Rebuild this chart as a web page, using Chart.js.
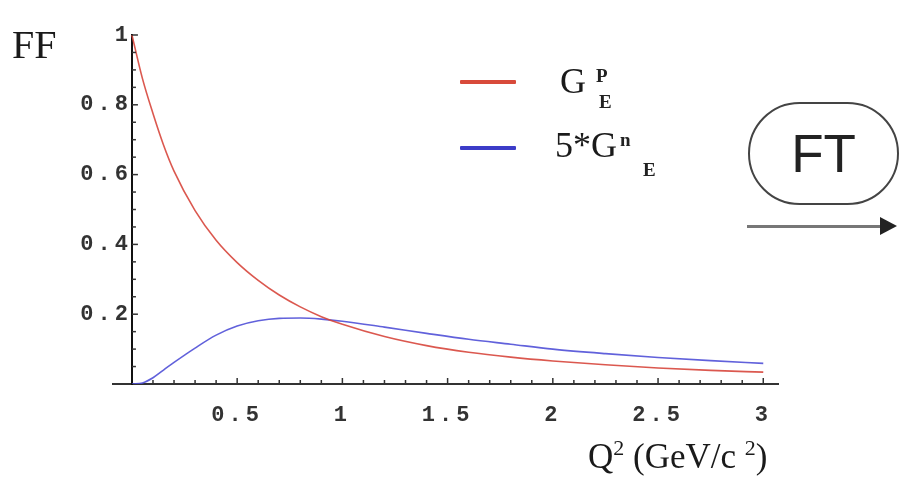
<!DOCTYPE html>
<html>
<head>
<meta charset="utf-8">
<script src="https://cdn.jsdelivr.net/npm/chart.js@4.4.1/dist/chart.umd.min.js"></script>
<style>
    html, body { margin: 0; padding: 0; background: #fff; }
    #wrap { position: relative; width: 899px; height: 477px; overflow: hidden; }
    #ff-chart { position: absolute; left: 0; top: 0; }
    .txt { position: absolute; font-family: "Liberation Serif", "DejaVu Serif", serif; color: #1a1a1a; line-height: 1; white-space: nowrap; }
    .idx { position: absolute; font-family: "Liberation Serif", serif; font-weight: bold; font-size: 19px; color: #222; line-height: 1; }
    .swatch { position: absolute; height: 4px; width: 56px; border-radius: 1px; }
    #ft-box { position: absolute; left: 748px; top: 102px; width: 147px; height: 99px; border: 2px solid #444;
        border-radius: 52px; display: flex; align-items: center; justify-content: center;
        font-family: "Liberation Sans", Arial, sans-serif; font-size: 53px; color: #222; }
    #arrow-line { position: absolute; left: 747px; top: 225px; width: 136px; height: 3px; background: #777; }
    #arrow-head { position: absolute; left: 880px; top: 217px; width: 0; height: 0;
        border-top: 9px solid transparent; border-bottom: 9px solid transparent; border-left: 17px solid #222; }
</style>
</head>
<body>
<div id="wrap">
    <canvas id="ff-chart" width="899" height="477"></canvas>

    <div class="txt" style="left:12px; top:25px; font-size:40px;">FF</div>

    <!-- legende -->
    <div class="swatch" style="left:460px; top:80px; background:#d84a3a;"></div>
    <div class="txt" style="left:560px; top:63px; font-size:36px;">G</div>
    <div class="idx" style="left:596px; top:66px;">P</div>
    <div class="idx" style="left:599px; top:92px;">E</div>

    <div class="swatch" style="left:460px; top:146px; background:#3c3cc8;"></div>
    <div class="txt" style="left:555px; top:127px; font-size:36px;">5*G</div>
    <div class="idx" style="left:620px; top:130px;">n</div>
    <div class="idx" style="left:643px; top:160px;">E</div>

    <div id="ft-box">FT</div>
    <div id="arrow-line"></div>
    <div id="arrow-head"></div>

    <div class="txt" style="left:588px; top:439px; font-size:35px;">Q<span style="font-size:22px; position:relative; top:-13px;">2</span> (GeV/c <span style="font-size:22px; position:relative; top:-13px;">2</span>)</div>
</div>

<script>
// Q^2 en GeV/c^2
const qValues = [0, 0.05, 0.1, 0.15, 0.2, 0.3, 0.4, 0.5, 0.6, 0.7, 0.8, 0.9, 1.0,
    1.2, 1.4, 1.6, 1.8, 2.0, 2.25, 2.5, 2.75, 3.0]
// facteur de forme electrique du proton
const gepValues = [1.00, 0.875, 0.775, 0.685, 0.61, 0.497, 0.412, 0.348, 0.297, 0.255, 0.221, 0.193, 0.171,
    0.136, 0.110, 0.091, 0.077, 0.066, 0.055, 0.046, 0.039, 0.034]
// 5 x facteur de forme electrique du neutron
const gen5Values = [0, 0.003, 0.018, 0.04, 0.062, 0.103, 0.140, 0.166, 0.181, 0.188, 0.189, 0.186, 0.180,
    0.163, 0.145, 0.128, 0.114, 0.100, 0.087, 0.076, 0.067, 0.059]
const xTickLabels = [0.5, 1, 1.5, 2, 2.5, 3]
const yTickLabels = [0.2, 0.4, 0.6, 0.8, 1]

const toPoints = (vals) => qValues.map((q, i) => ({x: q, y: vals[i]}))

const tickFont = {family: '"Liberation Mono", "DejaVu Sans Mono", monospace', size: 22, weight: 'bold'}

// espacement des chiffres des graduations
const spacedLabels = {
    id: 'spacedLabels',
    beforeDraw(chart) { chart.ctx.letterSpacing = '4px' },
    afterDraw(chart) { chart.ctx.letterSpacing = '0px' }
}

// petites graduations vers l'interieur, facon Mathematica
const innerTicks = {
    id: 'innerTicks',
    afterDraw(chart) {
        const ctx = chart.ctx
        const xs = chart.scales.x
        const ys = chart.scales.y
        const x0 = xs.getPixelForValue(0)
        const y0 = ys.getPixelForValue(0)
        ctx.save()
        ctx.strokeStyle = '#333'
        ctx.lineWidth = 1.5
        for (let i = 1; i <= 30; i++) {
            const px = xs.getPixelForValue(i / 10)
            const len = i % 5 === 0 ? 6 : 4
            ctx.beginPath()
            ctx.moveTo(px, y0)
            ctx.lineTo(px, y0 - len)
            ctx.stroke()
        }
        for (let i = 1; i <= 20; i++) {
            const py = ys.getPixelForValue(i / 20)
            const len = i % 4 === 0 ? 6 : 4
            ctx.beginPath()
            ctx.moveTo(x0, py)
            ctx.lineTo(x0 + len, py)
            ctx.stroke()
        }
        ctx.restore()
    }
}

const ctx = document.getElementById('ff-chart').getContext('2d')
const chart = new Chart(ctx, {
    type: 'line',
    data: {
        datasets: [{
            label: 'GEp',
            data: toPoints(gepValues),
            borderColor: 'rgba(215, 70, 60, 0.9)',
            borderWidth: 1.6,
            pointRadius: 0,
            cubicInterpolationMode: 'monotone'
        }, {
            label: '5*GEn',
            data: toPoints(gen5Values),
            borderColor: 'rgba(80, 80, 215, 0.9)',
            borderWidth: 1.6,
            pointRadius: 0,
            cubicInterpolationMode: 'monotone'
        }]
    },
    options: {
        responsive: false,
        devicePixelRatio: 1,
        animation: false,
        layout: {padding: {left: 113, right: 121, top: 35, bottom: 0}},
        plugins: {legend: {display: false}, tooltip: {enabled: false}},
        scales: {
            x: {
                type: 'linear',
                min: -0.09,
                max: 3.07,
                position: 'bottom',
                border: {color: '#333', width: 2},
                grid: {display: false},
                ticks: {font: tickFont, color: '#333', padding: 10, maxRotation: 0,
                    callback: (v) => String(v)},
                afterBuildTicks: (s) => { s.ticks = xTickLabels.map(v => ({value: v})) },
                afterFit: (s) => { s.height = 93 }
            },
            y: {
                type: 'linear',
                min: 0,
                max: 1,
                position: {x: 0},
                border: {color: '#111', width: 2},
                grid: {display: false},
                ticks: {font: tickFont, color: '#333', padding: 10,
                    callback: (v) => String(v)},
                afterBuildTicks: (s) => { s.ticks = yTickLabels.map(v => ({value: v})) }
            }
        }
    },
    plugins: [spacedLabels, innerTicks]
})
</script>
</body>
</html>
